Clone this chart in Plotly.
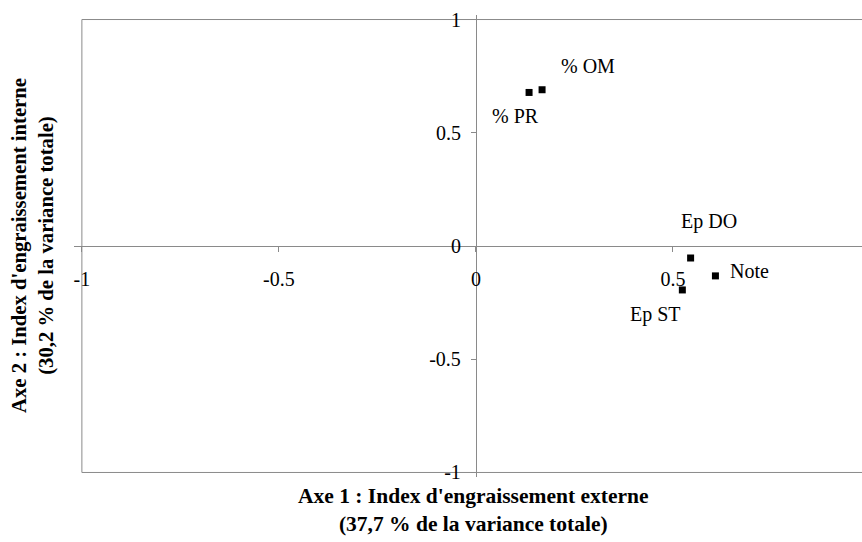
import plotly.graph_objects as go

# Correlation circle: loadings of the fattening variables on the first two axes
variables = ["% PR", "% OM", "Ep DO", "Note", "Ep ST"]
axe1 = [0.135, 0.168, 0.545, 0.608, 0.524]
axe2 = [0.678, 0.690, -0.053, -0.132, -0.194]

tick_vals = [-1, -0.5, 0, 0.5, 1]
tick_text = ["-1", "-0.5", "0", "0.5", "1"]

x_title = "<b>Axe 1 : Index d'engraissement externe<br>(37,7 % de la variance totale)</b>"
y_title = "<b>Axe 2 : Index d'engraissement interne<br>(30,2 % de la variance totale)</b>"

# label offsets (pixels) around each marker
label_dx = [-14, 46, 18, 34, -27]
label_dy = [-24, 24, 37, 5, -25]

SERIF = "Liberation Serif, Times New Roman, serif"
AXIS_GREY = "#8a8a8a"

x_range = [-1.02, 0.98]
y_range = [-1.02, 1.02]

fig = go.Figure()

fig.add_trace(go.Scatter(
    x=axe1, y=axe2, mode="markers",
    marker=dict(symbol="square", size=7, color="black"),
    hoverinfo="text", text=variables, showlegend=False,
))

for name, xv, yv, dx, dy in zip(variables, axe1, axe2, label_dx, label_dy):
    fig.add_annotation(
        x=xv, y=yv, xref="x", yref="y", text=name, showarrow=False,
        xshift=dx, yshift=dy, xanchor="center", yanchor="middle",
        font=dict(family=SERIF, size=20, color="black"),
    )

# unit frame around the circle area
fig.add_shape(type="rect", xref="x", yref="y", x0=-1, y0=-1, x1=1, y1=1,
              line=dict(color=AXIS_GREY, width=1), layer="below")

# axis titles
fig.add_annotation(
    x=0, y=-1, xref="x", yref="y", text=x_title, showarrow=False,
    xshift=-2, yshift=-38, xanchor="center", yanchor="middle",
    font=dict(family=SERIF, size=21.5, color="black"), align="center",
)
fig.add_annotation(
    x=0, y=0, xref="paper", yref="y", text=y_title, showarrow=False,
    textangle=-90, xshift=-41, xanchor="center", yanchor="middle",
    font=dict(family=SERIF, size=20.7, color="black"), align="center",
)

y_axis_pos = (0 - x_range[0]) / (x_range[1] - x_range[0])
x_axis_pos = (0 - y_range[0]) / (y_range[1] - y_range[0])

fig.update_layout(
    width=862, height=542,
    margin=dict(l=74, r=0, t=15, b=65),
    paper_bgcolor="white", plot_bgcolor="white",
    font=dict(family=SERIF, size=20, color="black"),
    xaxis=dict(
        range=x_range, anchor="free", position=x_axis_pos,
        tickvals=tick_vals[:-1], ticktext=tick_text[:-1],
        showline=True, linecolor=AXIS_GREY, linewidth=1,
        ticks="outside", ticklen=5, tickcolor=AXIS_GREY,
        ticklabelstandoff=10,
        showgrid=False, zeroline=False,
        tickfont=dict(family=SERIF, size=20, color="black"),
    ),
    yaxis=dict(
        range=y_range, anchor="free", position=y_axis_pos,
        tickvals=tick_vals, ticktext=tick_text,
        showline=True, linecolor=AXIS_GREY, linewidth=1,
        ticks="outside", ticklen=5, tickcolor=AXIS_GREY,
        ticklabelstandoff=6,
        showgrid=False, zeroline=False,
        tickfont=dict(family=SERIF, size=20, color="black"),
    ),
)

fig.write_html("out.html")
